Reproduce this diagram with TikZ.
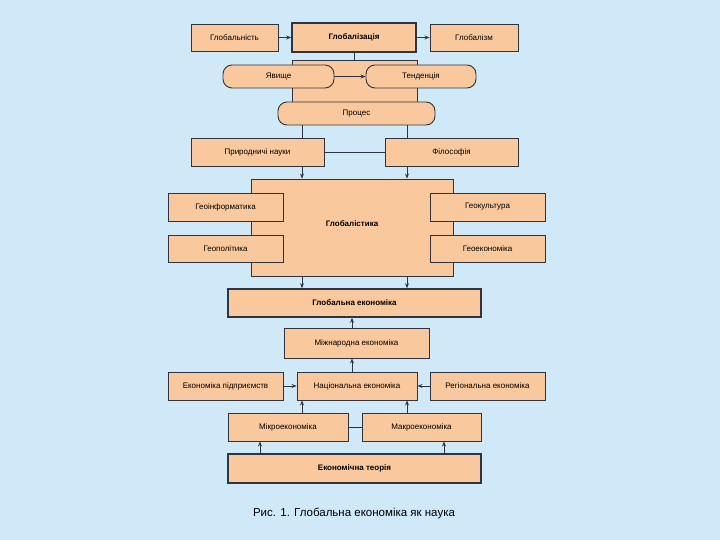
\documentclass[tikz,border=0pt]{standalone}
\usepackage{fontspec}
\setmainfont{Liberation Sans}
\usetikzlibrary{arrows.meta}
\definecolor{bg}{HTML}{CFE9F9}
\definecolor{box}{HTML}{F9C89C}
\definecolor{ln}{HTML}{2E3540}
\begin{document}
\begin{tikzpicture}[x=1pt,y=-1pt,
  b/.style={draw=ln,fill=box,line width=0.9pt,inner sep=0pt,font=\fontsize{8}{9}\selectfont},
  bb/.style={b,line width=1.6pt,font=\fontsize{8}{9}\selectfont\bfseries},
  r/.style={b,rounded corners=9pt},
  ar/.style={draw=ln,line width=0.9pt,-{Stealth[length=5pt,width=4pt]}},
  ln/.style={draw=ln,line width=0.9pt}]
\fill[bg] (0,0) rectangle (720,540);
\useasboundingbox (0,0) rectangle (720,540);
% top
\node[b,minimum width=87pt,minimum height=27pt] (gn) at (234.5,37.5) {Глобальність};
\node[bb,minimum width=124pt,minimum height=29pt] (gz) at (354,37.5) {Глобалізація};
\node[b,minimum width=88pt,minimum height=27pt] (gm) at (474,37.5) {Глобалізм};
\node[b,minimum width=125pt,minimum height=44pt] (back) at (354.5,82) {};
\node[r,minimum width=111pt,minimum height=23pt] (ya) at (278.5,76.5) {Явище};
\node[r,minimum width=110pt,minimum height=23pt] (te) at (421,76.5) {Тенденція};
\node[r,minimum width=157pt,minimum height=23pt] (pr) at (356.5,113.5) {Процес};
\draw[ar] (gn) -- (gz);
\draw[ar] (gz) -- (gm);
\draw[ln] (gz.south -| back.north) -- (back.north);
\draw[ar] (ya) -- (te);
\node[b,minimum width=133pt,minimum height=28pt] (nat) at (257.5,152) {Природничі науки};
\node[b,minimum width=133pt,minimum height=28pt] (fil) at (451.5,152) {Філософія};
\coordinate (cl) at (302,0);
\coordinate (cr) at (407,0);
\draw[ln] (cl |- pr.south) -- (cl |- nat.north);
\draw[ln] (cr |- pr.south) -- (cr |- fil.north);
\draw[ln] (nat) -- (fil);
% globalistika
\node[b,minimum width=202pt,minimum height=97pt] (gl) at (352,227.5) {};
\node[font=\fontsize{8}{9}\selectfont\bfseries] (glt) at (352,224) {Глобалістика};
\node[b,minimum width=115pt,minimum height=28pt] (gi) at (225.5,207) {Геоінформатика};
\node[b,minimum width=115pt,minimum height=27pt] (gp) at (225.5,248.5) {Геополітика};
\node[b,minimum width=115pt,minimum height=28pt] (gk) at (487.5,207) {Геокультура};
\node[b,minimum width=115pt,minimum height=27pt] (ge) at (487.5,248.5) {Геоекономіка};
\draw[ar] (cl |- nat.south) -- (cl |- gl.north);
\draw[ar] (cr |- fil.south) -- (cr |- gl.north);
\node[bb,minimum width=253pt,minimum height=28pt] (ge2) at (354.5,303) {Глобальна економіка};
\draw[ar] (cl |- gl.south) -- (cl |- ge2.north);
\draw[ar] (cr |- gl.south) -- (cr |- ge2.north);
\node[b,minimum width=145pt,minimum height=30pt] (mz) at (356.5,343) {Міжнародна економіка};
\draw[ar] (352,0 |- mz.north) -- (352,0 |- ge2.south);
\node[b,minimum width=120pt,minimum height=28pt] (na) at (357,386) {Національна економіка};
\draw[ar] (352,0 |- na.north) -- (352,0 |- mz.south);
\node[b,minimum width=115pt,minimum height=28pt] (ep) at (225.5,386) {Економіка підприємств};
\node[b,minimum width=115pt,minimum height=28pt] (re) at (487.5,386) {Регіональна економіка};
\draw[ar] (ep) -- (na);
\draw[ar] (re) -- (na);
\node[b,minimum width=120pt,minimum height=28pt] (mi) at (288,427) {Мікроекономіка};
\node[b,minimum width=119pt,minimum height=28pt] (ma) at (421.5,427) {Макроекономіка};
\draw[ln] (mi) -- (ma);
\draw[ar] (cl |- mi.north) -- (cl |- na.south);
\draw[ar] (cr |- ma.north) -- (cr |- na.south);
\node[bb,minimum width=253pt,minimum height=29pt] (et) at (354.5,468.5) {Економічна теорія};
\coordinate (dl) at (260,0);
\coordinate (dr) at (444,0);
\draw[ar] (dl |- et.north) -- (dl |- mi.south);
\draw[ar] (dr |- et.north) -- (dr |- ma.south);
\node[font=\fontsize{11.5}{13}\selectfont] (cap) at (354,513) {Рис. 1. Глобальна економіка як наука};
\end{tikzpicture}
\end{document}
